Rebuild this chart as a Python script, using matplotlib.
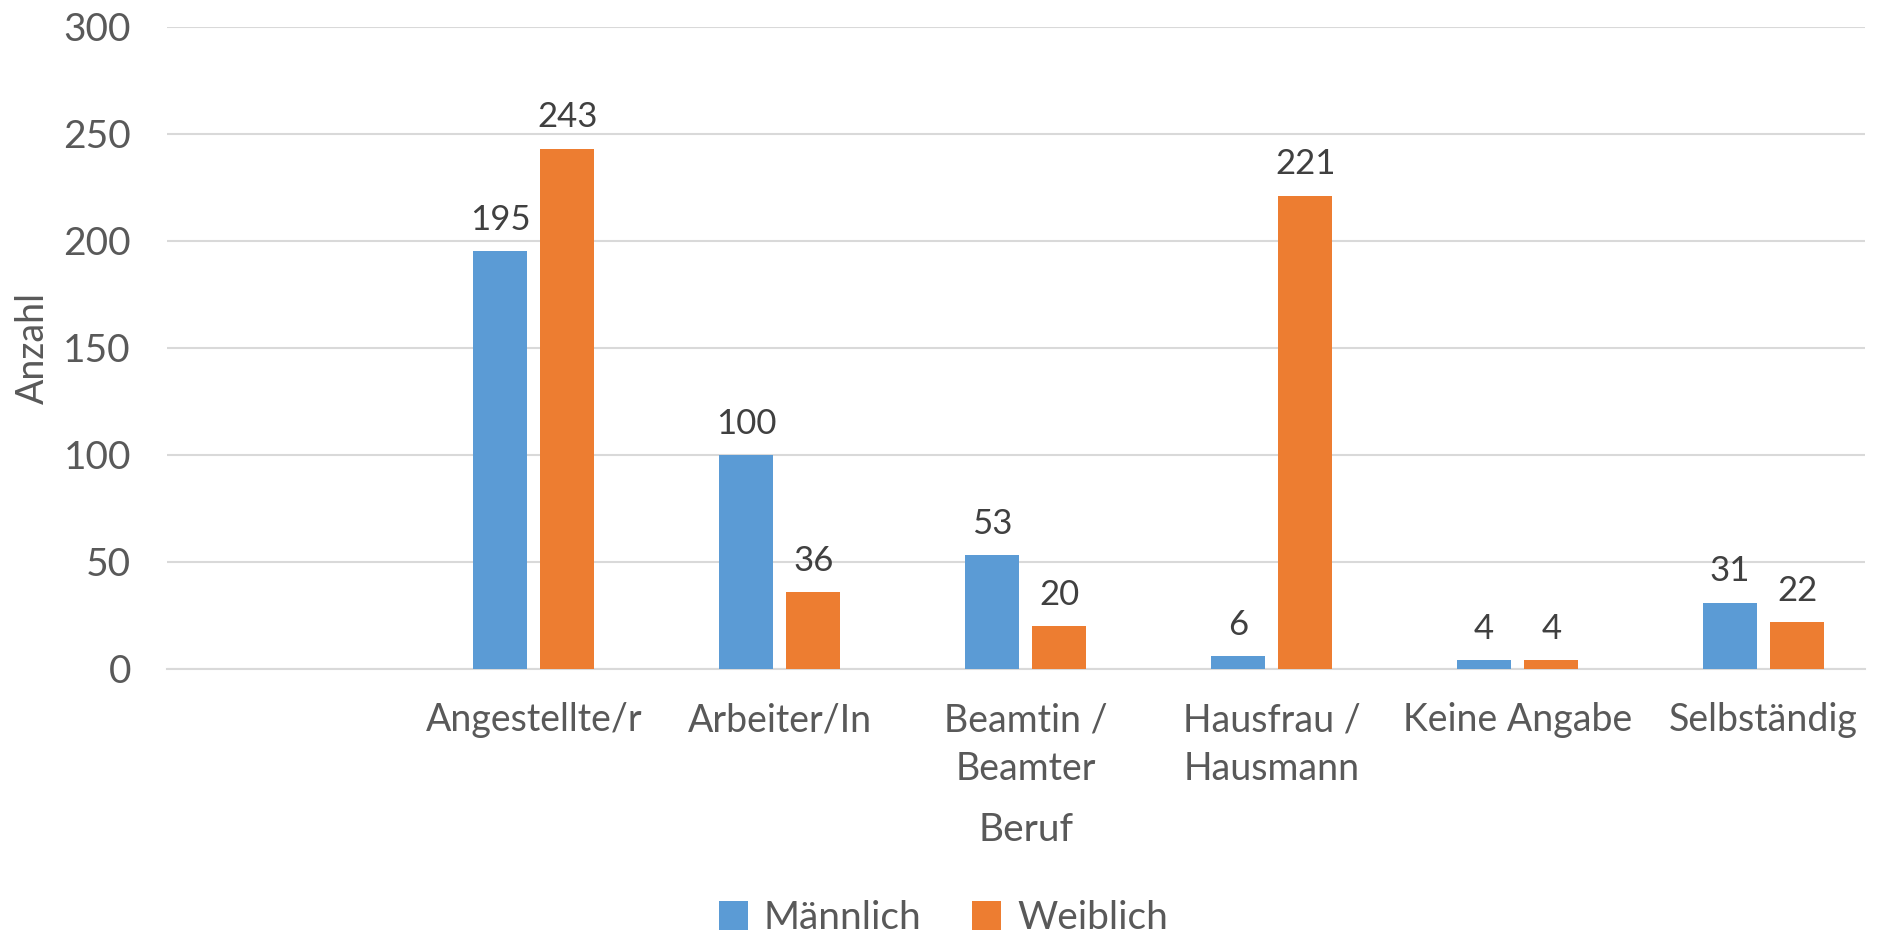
import matplotlib.pyplot as plt
import numpy as np

# categories (first slot is empty in the original chart)
berufe = ['', 'Angestellte/r', 'Arbeiter/In', 'Beamtin /\nBeamter', 'Hausfrau /\nHausmann',
          'Keine Angabe', 'Selbständig']
maennlich = [None, 195, 100, 53, 6, 4, 31]
weiblich = [None, 243, 36, 20, 221, 4, 22]
y_ticks = [0, 50, 100, 150, 200, 250, 300]

blue = '#5B9BD5'
orange = '#ED7D31'
text_col = '#595959'

plt.rcParams['font.family'] = ['Lato', 'DejaVu Sans']

fig = plt.figure(figsize=(18.87, 9.38), dpi=100)
ax = fig.add_axes([0.0885, 0.2868, 0.8998, 0.6849])

x = np.arange(len(berufe))
w = 0.22
off = 0.137
m_vals = [v if v is not None else 0 for v in maennlich]
f_vals = [v if v is not None else 0 for v in weiblich]
b1 = ax.bar(x - off, m_vals, w, color=blue, label='Männlich', zorder=3)
b2 = ax.bar(x + off, f_vals, w, color=orange, label='Weiblich', zorder=3)

# value labels above the bars
for bars, vals in ((b1, maennlich), (b2, weiblich)):
    for rect, v in zip(bars, vals):
        if v is None:
            continue
        ax.annotate(str(v), (rect.get_x() + rect.get_width() / 2, v),
                    textcoords='offset points', xytext=(0, 11), ha='center', va='bottom',
                    fontsize=25, color='#404040')

ax.set_xlim(-0.491, 6.412)
ax.set_ylim(0, 300)
ax.set_yticks(y_ticks)
ax.set_xticks(x)
ax.set_xticklabels(berufe, fontsize=27, color=text_col, linespacing=1.45)
ax.tick_params(axis='y', labelsize=28, labelcolor=text_col, length=0, pad=26)
ax.tick_params(axis='x', length=0, pad=24)
ax.grid(axis='y', color='#D9D9D9', linewidth=1.5, zorder=0)
for s in ['top', 'right', 'left']:
    ax.spines[s].set_visible(False)
ax.spines['bottom'].set_color('#D9D9D9')
ax.spines['bottom'].set_linewidth(1.5)

ax.set_xlabel('Beruf', fontsize=28, color=text_col)
ax.xaxis.set_label_coords(0.506, -0.222)
ax.set_ylabel('Anzahl', fontsize=27, color=text_col, labelpad=9)

fig.legend(handles=[b1, b2], loc='lower center', bbox_to_anchor=(0.5, -0.035), ncol=2,
           frameon=False, fontsize=28, labelcolor=text_col, handlelength=0.75,
           handleheight=0.75, handletextpad=0.4, columnspacing=1.3)

fig.savefig('out.png', dpi=100)
